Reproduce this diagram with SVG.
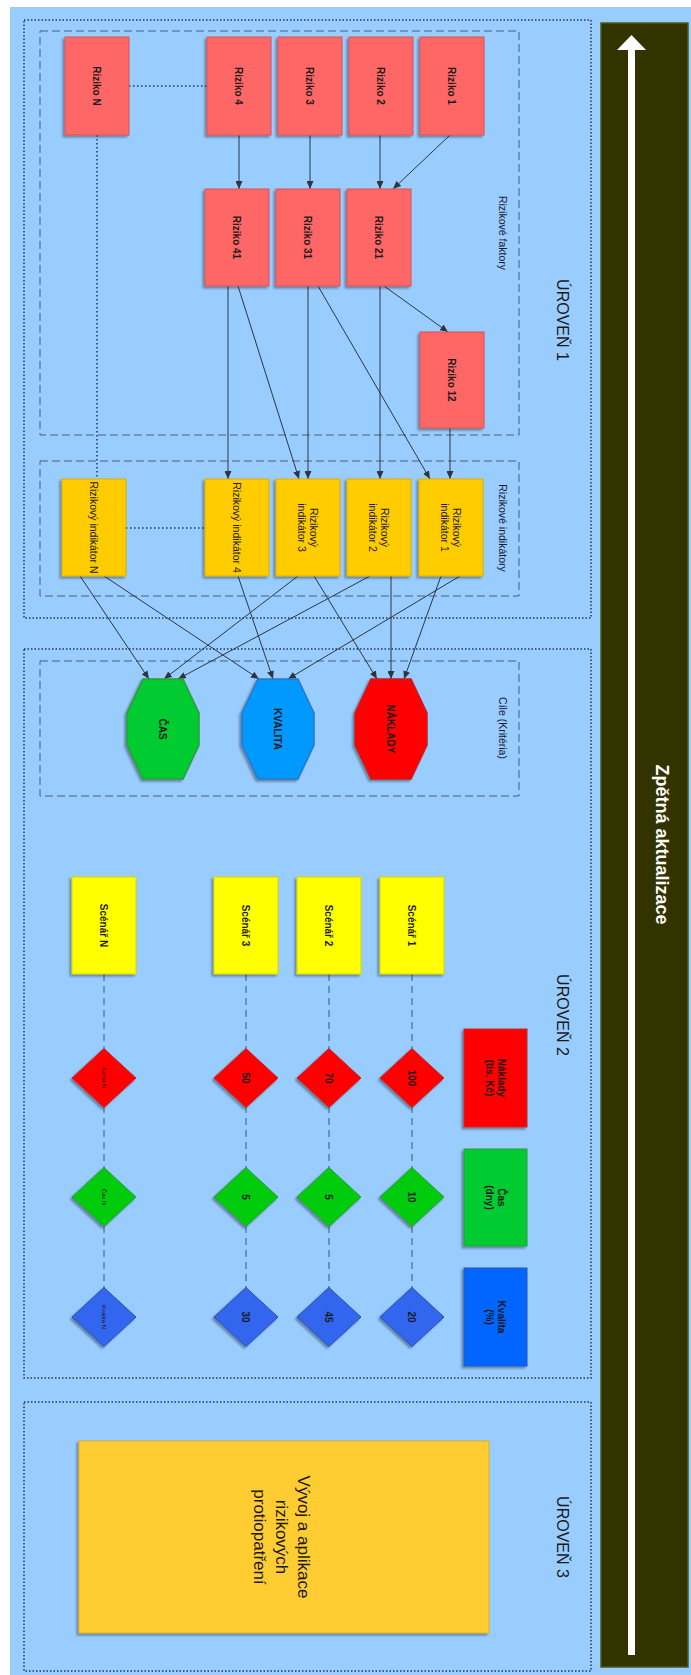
<svg xmlns="http://www.w3.org/2000/svg" width="691" height="1675" viewBox="0 0 691 1675">
  <defs>
    <style>
      .lvl { fill: none; stroke: #2a3550; stroke-width: 1.5; stroke-dasharray: 1.5 2; }
      .grp { fill: none; stroke: #4a5f78; stroke-width: 1; stroke-dasharray: 8 4; }
      .grpl { font-family: "Liberation Sans", Arial, sans-serif; font-size: 10.5px; fill: #1a1a33; text-anchor: middle; }
      .lvlt { font-family: "Liberation Sans", Arial, sans-serif; font-size: 16px; fill: #1a1a1a; text-anchor: middle; }
      .risk { fill: #FF6666; stroke: #D55555; stroke-width: 1; filter: url(#sh); }
      .ind { fill: #FFCC00; stroke: #D9AE00; stroke-width: 1; filter: url(#sh); }
      .scn { fill: #FFFF00; stroke: #D6D600; stroke-width: 1; filter: url(#sh); }
      .tb { font-family: "Liberation Sans", Arial, sans-serif; font-weight: bold; font-size: 10px; fill: #1a1a1a; text-anchor: middle; }
      .tr { font-family: "Liberation Sans", Arial, sans-serif; font-size: 10.5px; fill: #1a1a1a; text-anchor: middle; }
      .tiny { font-family: "Liberation Sans", Arial, sans-serif; font-size: 6px; fill: #1a1a1a; text-anchor: middle; }
      .con { fill: none; stroke: #2d3640; stroke-width: 1; marker-end: url(#arr); }
      .dot { fill: none; stroke: #2a3550; stroke-width: 1.5; stroke-dasharray: 1.5 2.5; }
      .dash { fill: none; stroke: #3d5670; stroke-width: 1; stroke-dasharray: 7 5; }
    </style>
    <filter id="sh" x="-20%" y="-20%" width="140%" height="140%">
      <feDropShadow dx="-2" dy="2" stdDeviation="1" flood-color="#000" flood-opacity="0.35"/>
    </filter>
    <marker id="arr" viewBox="0 0 8 7" refX="8" refY="3.5" markerWidth="8" markerHeight="7" orient="auto" markerUnits="userSpaceOnUse">
      <path d="M0,0 L8,3.5 L0,7 z" fill="#2d3640"/>
    </marker>
  </defs>

  <!-- canvas -->
  <rect x="10" y="7" width="681" height="1668" fill="#99CCFF"/>

  <!-- feedback bar -->
  <g id="feedback">
    <rect x="601" y="23" width="87" height="1644" fill="#333300" stroke="#4b5a22" stroke-width="1.5"/>
    <rect x="628" y="48" width="7" height="1607" fill="#FFFFFF"/>
    <polygon points="617,50 631.5,35 646,50" fill="#FFFFFF"/>
    <text transform="translate(662,844.5) rotate(90)" y="6.3" font-family="Liberation Sans, Arial, sans-serif" font-weight="bold" font-size="18" fill="#FFFFFF" text-anchor="middle">Zpětná aktualizace</text>
  </g>

  <!-- levels -->
  <g id="level1">
    <rect class="lvl" x="24" y="20" width="567" height="598"/>
    <text class="lvlt" transform="translate(563,320) rotate(90)" y="5.8">ÚROVEŇ 1</text>
  </g>
  <g id="level2">
    <rect class="lvl" x="24" y="649" width="567" height="729"/>
    <text class="lvlt" transform="translate(563,1015) rotate(90)" y="5.8">ÚROVEŇ 2</text>
  </g>
  <g id="level3">
    <rect class="lvl" x="24" y="1402" width="567" height="269"/>
    <text class="lvlt" transform="translate(563,1537) rotate(90)" y="5.8">ÚROVEŇ 3</text>
  </g>

  <!-- groupings -->
  <g id="grp-factors">
    <rect class="grp" x="40" y="31" width="479" height="404"/>
    <text class="grpl" transform="translate(503,233) rotate(90)" y="3.7">Rizikové faktory</text>
  </g>
  <g id="grp-indicators">
    <rect class="grp" x="40" y="461" width="479" height="135"/>
    <text class="grpl" transform="translate(503,528) rotate(90)" y="3.7">Rizikové indikátory</text>
  </g>
  <g id="grp-goals">
    <rect class="grp" x="40" y="661" width="479" height="135"/>
    <text class="grpl" transform="translate(503,728) rotate(90)" y="3.7">Cíle (Kritéria)</text>
  </g>

  <!-- connectors -->
  <g id="connectors">
    <!-- factors -->
    <line class="con" x1="239" y1="135" x2="239" y2="189"/>
    <line class="con" x1="310" y1="135" x2="310" y2="189"/>
    <line class="con" x1="380" y1="135" x2="380" y2="189"/>
    <line class="con" x1="450" y1="135" x2="393" y2="189"/>
    <line class="con" x1="384" y1="286" x2="448" y2="332"/>
    <!-- factors to indicators -->
    <line class="con" x1="228" y1="286" x2="228" y2="479"/>
    <line class="con" x1="238" y1="286" x2="299" y2="479"/>
    <line class="con" x1="308" y1="286" x2="308" y2="479"/>
    <line class="con" x1="318" y1="286" x2="430" y2="479"/>
    <line class="con" x1="380" y1="286" x2="380" y2="479"/>
    <line class="con" x1="450" y1="428" x2="450" y2="479"/>
    <!-- indicators to goals -->
    <line class="con" x1="80" y1="576" x2="149" y2="679"/>
    <line class="con" x1="104" y1="576" x2="259" y2="679"/>
    <line class="con" x1="238" y1="576" x2="273" y2="679"/>
    <line class="con" x1="298" y1="576" x2="164" y2="679"/>
    <line class="con" x1="314" y1="576" x2="377" y2="679"/>
    <line class="con" x1="370" y1="576" x2="178" y2="679"/>
    <line class="con" x1="391" y1="576" x2="391" y2="679"/>
    <line class="con" x1="441" y1="576" x2="404" y2="679"/>
    <line class="con" x1="460" y1="576" x2="288" y2="679"/>
    <!-- continuation marks -->
    <line class="dot" x1="129" y1="86" x2="207" y2="86"/>
    <line class="dot" x1="97" y1="135" x2="97" y2="479"/>
    <line class="dot" x1="126" y1="528" x2="205" y2="528"/>
    <!-- scenario rows -->
    <line class="dash" x1="104" y1="974" x2="104" y2="1288"/>
    <line class="dash" x1="246" y1="974" x2="246" y2="1288"/>
    <line class="dash" x1="329" y1="974" x2="329" y2="1288"/>
    <line class="dash" x1="412" y1="974" x2="412" y2="1288"/>
  </g>

  <!-- risk factors -->
  <g id="riziko-n"><rect class="risk" x="65" y="37" width="64" height="98"/><text class="tb" transform="translate(97,86) rotate(90)" y="3.6">Riziko N</text></g>
  <g id="riziko-4"><rect class="risk" x="207" y="37" width="64" height="98"/><text class="tb" transform="translate(239,86) rotate(90)" y="3.6">Riziko 4</text></g>
  <g id="riziko-3"><rect class="risk" x="278" y="37" width="64" height="98"/><text class="tb" transform="translate(310,86) rotate(90)" y="3.6">Riziko 3</text></g>
  <g id="riziko-2"><rect class="risk" x="349" y="37" width="64" height="98"/><text class="tb" transform="translate(381,86) rotate(90)" y="3.6">Riziko 2</text></g>
  <g id="riziko-1"><rect class="risk" x="420" y="37" width="64" height="98"/><text class="tb" transform="translate(452,86) rotate(90)" y="3.6">Riziko 1</text></g>
  <g id="riziko-41"><rect class="risk" x="205" y="189" width="64" height="97"/><text class="tb" transform="translate(237,237.5) rotate(90)" y="3.6">Riziko 41</text></g>
  <g id="riziko-31"><rect class="risk" x="276" y="189" width="64" height="97"/><text class="tb" transform="translate(308,237.5) rotate(90)" y="3.6">Riziko 31</text></g>
  <g id="riziko-21"><rect class="risk" x="347" y="189" width="64" height="97"/><text class="tb" transform="translate(379,237.5) rotate(90)" y="3.6">Riziko 21</text></g>
  <g id="riziko-12"><rect class="risk" x="420" y="332" width="64" height="96"/><text class="tb" transform="translate(452,380) rotate(90)" y="3.6">Riziko 12</text></g>

  <!-- risk indicators -->
  <g id="indikator-n"><rect class="ind" x="62" y="479" width="64" height="97"/><text class="tr" transform="translate(94,527.5) rotate(90)" y="3.8">Rizikový indikátor N</text></g>
  <g id="indikator-4"><rect class="ind" x="205" y="479" width="64" height="97"/><text class="tr" transform="translate(237,527.5) rotate(90)" y="3.8">Rizikový indikátor 4</text></g>
  <g id="indikator-3"><rect class="ind" x="276" y="479" width="64" height="97"/><text class="tr" transform="translate(308,527.5) rotate(90)"><tspan x="0" y="-2.4">Rizikový</tspan><tspan x="0" y="10">indikátor 3</tspan></text></g>
  <g id="indikator-2"><rect class="ind" x="347" y="479" width="64" height="97"/><text class="tr" transform="translate(379,527.5) rotate(90)"><tspan x="0" y="-2.4">Rizikový</tspan><tspan x="0" y="10">indikátor 2</tspan></text></g>
  <g id="indikator-1"><rect class="ind" x="419" y="479" width="64" height="97"/><text class="tr" transform="translate(451,527.5) rotate(90)"><tspan x="0" y="-2.4">Rizikový</tspan><tspan x="0" y="10">indikátor 1</tspan></text></g>

  <!-- goals -->
  <g id="cil-cas">
    <polygon points="143,679 183,679 199,713 199,745 183,779 143,779 127,745 127,713" fill="#00CC33" stroke="#2E9A3A" stroke-width="1.5" filter="url(#sh)"/>
    <text class="tb" transform="translate(163,729) rotate(90)" y="3.6" fill="#063306">ČAS</text>
  </g>
  <g id="cil-kvalita">
    <polygon points="258,679 298,679 314,713 314,745 298,779 258,779 242,745 242,713" fill="#0099FF" stroke="#2A78C8" stroke-width="1.5" filter="url(#sh)"/>
    <text class="tb" transform="translate(278,729) rotate(90)" y="3.6" fill="#0A1A3A">KVALITA</text>
  </g>
  <g id="cil-naklady">
    <polygon points="371,679 411,679 427,713 427,745 411,779 371,779 355,745 355,713" fill="#FF0000" stroke="#C81E1E" stroke-width="1.5" filter="url(#sh)"/>
    <text class="tb" transform="translate(391,729) rotate(90)" y="3.6" fill="#3A0000">NÁKLADY</text>
  </g>

  <!-- criteria headers -->
  <g id="hdr-naklady">
    <rect x="464" y="1029" width="63" height="98" fill="#FF0000" stroke="#C42A2A" stroke-width="1" filter="url(#sh)"/>
    <text class="tb" font-size="9.5" transform="translate(495.5,1078) rotate(90)"><tspan x="0" y="-2.8">Náklady</tspan><tspan x="0" y="9.2">(tis. Kč)</tspan></text>
  </g>
  <g id="hdr-cas">
    <rect x="464" y="1149" width="63" height="97" fill="#00CC33" stroke="#2E9A3A" stroke-width="1" filter="url(#sh)"/>
    <text class="tb" font-size="9.5" transform="translate(495.5,1197.5) rotate(90)"><tspan x="0" y="-2.8">Čas</tspan><tspan x="0" y="9.2">(dny)</tspan></text>
  </g>
  <g id="hdr-kvalita">
    <rect x="464" y="1268" width="63" height="98" fill="#0066FF" stroke="#2A55B8" stroke-width="1" filter="url(#sh)"/>
    <text class="tb" font-size="9.5" transform="translate(495.5,1317) rotate(90)"><tspan x="0" y="-2.8">Kvalita</tspan><tspan x="0" y="9.2">(%)</tspan></text>
  </g>

  <!-- scenarios -->
  <g id="scenar-n"><rect class="scn" x="72" y="877" width="64" height="97"/><text class="tb" font-size="10.5" transform="translate(104,925.5) rotate(90)" y="3.8">Scénář N</text></g>
  <g id="scenar-3"><rect class="scn" x="214" y="877" width="64" height="97"/><text class="tb" font-size="10.5" transform="translate(246,925.5) rotate(90)" y="3.8">Scénář 3</text></g>
  <g id="scenar-2"><rect class="scn" x="297" y="877" width="64" height="97"/><text class="tb" font-size="10.5" transform="translate(329,925.5) rotate(90)" y="3.8">Scénář 2</text></g>
  <g id="scenar-1"><rect class="scn" x="380" y="877" width="64" height="97"/><text class="tb" font-size="10.5" transform="translate(412,925.5) rotate(90)" y="3.8">Scénář 1</text></g>

  <!-- scenario values: cost -->
  <g id="cena-1"><polygon points="412,1048.5 444,1078 412,1107.5 380,1078" fill="#FF0000" stroke="#C42A2A" filter="url(#sh)"/><text class="tb" font-size="10.5" transform="translate(412,1078) rotate(90)" y="3.8">100</text></g>
  <g id="cena-2"><polygon points="329,1048.5 361,1078 329,1107.5 297,1078" fill="#FF0000" stroke="#C42A2A" filter="url(#sh)"/><text class="tb" font-size="10.5" transform="translate(329,1078) rotate(90)" y="3.8">70</text></g>
  <g id="cena-3"><polygon points="246,1048.5 278,1078 246,1107.5 214,1078" fill="#FF0000" stroke="#C42A2A" filter="url(#sh)"/><text class="tb" font-size="10.5" transform="translate(246,1078) rotate(90)" y="3.8">50</text></g>
  <g id="cena-n"><polygon points="104,1048.5 136,1078 104,1107.5 72,1078" fill="#FF0000" stroke="#C42A2A" filter="url(#sh)"/><text class="tiny" transform="translate(104,1078) rotate(90)" y="2.1">Cena N</text></g>

  <!-- scenario values: time -->
  <g id="cas-1"><polygon points="412,1167.5 444,1197 412,1226.5 380,1197" fill="#00CC11" stroke="#2E9A3A" filter="url(#sh)"/><text class="tb" font-size="10.5" transform="translate(412,1197) rotate(90)" y="3.8">10</text></g>
  <g id="cas-2"><polygon points="329,1167.5 361,1197 329,1226.5 297,1197" fill="#00CC11" stroke="#2E9A3A" filter="url(#sh)"/><text class="tb" font-size="10.5" transform="translate(329,1197) rotate(90)" y="3.8">5</text></g>
  <g id="cas-3"><polygon points="246,1167.5 278,1197 246,1226.5 214,1197" fill="#00CC11" stroke="#2E9A3A" filter="url(#sh)"/><text class="tb" font-size="10.5" transform="translate(246,1197) rotate(90)" y="3.8">5</text></g>
  <g id="cas-n"><polygon points="104,1167.5 136,1197 104,1226.5 72,1197" fill="#00CC11" stroke="#2E9A3A" filter="url(#sh)"/><text class="tiny" transform="translate(104,1197) rotate(90)" y="2.1">Čas N</text></g>

  <!-- scenario values: quality -->
  <g id="kvalita-1"><polygon points="412,1287.5 444,1317 412,1346.5 380,1317" fill="#3366EE" stroke="#2A4FB0" filter="url(#sh)"/><text class="tb" font-size="10.5" transform="translate(412,1317) rotate(90)" y="3.8">20</text></g>
  <g id="kvalita-2"><polygon points="329,1287.5 361,1317 329,1346.5 297,1317" fill="#3366EE" stroke="#2A4FB0" filter="url(#sh)"/><text class="tb" font-size="10.5" transform="translate(329,1317) rotate(90)" y="3.8">45</text></g>
  <g id="kvalita-3"><polygon points="246,1287.5 278,1317 246,1346.5 214,1317" fill="#3366EE" stroke="#2A4FB0" filter="url(#sh)"/><text class="tb" font-size="10.5" transform="translate(246,1317) rotate(90)" y="3.8">30</text></g>
  <g id="kvalita-n"><polygon points="104,1287.5 136,1317 104,1346.5 72,1317" fill="#3366EE" stroke="#2A4FB0" filter="url(#sh)"/><text class="tiny" transform="translate(104,1317) rotate(90)" y="2.1">Kvalita N</text></g>

  <!-- countermeasures -->
  <g id="protiopatreni">
    <rect x="79" y="1441" width="410" height="192" fill="#FFCC33" stroke="#E0AE20" stroke-width="1" filter="url(#sh)"/>
    <text transform="translate(282,1537) rotate(90)" font-family="Liberation Sans, Arial, sans-serif" font-size="17" fill="#1a1a1a" text-anchor="middle"><tspan x="0" y="-16">Vývoj a aplikace</tspan><tspan x="0" y="6">rizikových</tspan><tspan x="0" y="28">protiopatření</tspan></text>
  </g>
</svg>
